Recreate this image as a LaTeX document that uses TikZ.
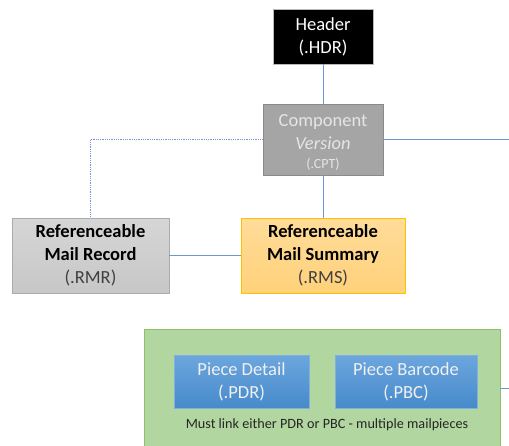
\documentclass[tikz,border=0pt]{standalone}
\usepackage{fontspec}
\setmainfont{Carlito}
\usepackage{xcolor}
\usepackage{tikz}
\usetikzlibrary{positioning, calc}

\definecolor{linkblue}{HTML}{7396D2}
\definecolor{cptfill}{HTML}{A5A5A5}
\definecolor{cptdraw}{HTML}{8A8A8A}
\definecolor{rmrtop}{HTML}{D6D6D6}
\definecolor{rmrbot}{HTML}{C7C7C7}
\definecolor{rmrdraw}{HTML}{ABABAB}
\definecolor{rmstop}{HTML}{FFDC99}
\definecolor{rmsbot}{HTML}{FFD17A}
\definecolor{rmsdraw}{HTML}{FFC000}
\definecolor{grpfill}{HTML}{B2D6A0}
\definecolor{grpdraw}{HTML}{8CC168}
\definecolor{piecetop}{HTML}{6CA6DE}
\definecolor{piecebot}{HTML}{478ACB}
\definecolor{piecedraw}{HTML}{7FB0DE}

\tikzset{
    rec/.style={rectangle, draw, line width=0.8pt, align=center, inner sep=0pt,
        font=\fontsize{18.5}{23}\selectfont},
    piece/.style={rec, top color=piecetop, bottom color=piecebot, draw=piecedraw,
        text=white!94!black, minimum height=53pt},
    link/.style={draw=linkblue, line width=0.8pt},
    small/.style={font=\fontsize{14.2}{16}\selectfont}
}

\begin{document}
\begin{tikzpicture}[x=1pt, y=-1pt]
    \clip (0,0) rectangle (509,445);

    % top of the tree
    \node[rec, fill=black, draw=cptdraw!60, text=white, minimum width=100pt, minimum height=55pt] (hdr) at (323,36.5) {Header\\(.HDR)};
    \node[rec, fill=cptfill, draw=cptdraw, text=white!90!black, minimum width=120pt, minimum height=71pt] (cpt) at (323,139.5)
        {\rule{0pt}{18pt}Component\\[0pt]\textit{Version}\\[-4pt]{\fontsize{14}{16}\selectfont(.CPT)}};

    % referenceable mail
    \node[rec, top color=rmrtop, bottom color=rmrbot, draw=rmrdraw, minimum width=157pt, minimum height=75pt] (rmr) at (90.5,255.5)
        {\textbf{Referenceable}\\\textbf{Mail Record}\\\textcolor{black!75}{(.RMR)}};
    \node[rec, top color=rmstop, bottom color=rmsbot, draw=rmsdraw, minimum width=164pt, minimum height=75pt] (rms) at (323,255.5)
        {\textbf{Referenceable}\\\textbf{Mail Summary}\\\textcolor{black!75}{(.RMS)}};

    % mailpiece group
    \node[rec, fill=grpfill, draw=grpdraw, minimum width=356pt, minimum height=118pt] (grp) at (322,388) {};
    \node[piece, minimum width=135pt] (pdr) at (241.5,381.5) {Piece Detail\\(.PDR)};
    \node[piece, minimum width=142pt] (pbc) at (406,381.5) {Piece Barcode\\(.PBC)};
    \node[small, text=black!85] (note) at (327,425) {Must link either PDR or PBC - multiple mailpieces};

    % loose ends on the right
    \coordinate (cptout) at (509,139.5);
    \coordinate (grpout) at (509,388);

    % links
    \draw[link] (hdr) -- (cpt);
    \draw[link] (cpt) -- (rms);
    \draw[link] (rmr) -- (rms);
    \draw[link] (cpt.east) -- (cptout);
    \draw[link] (grp.east) -- (grpout);
    \draw[link, densely dotted] (cpt.west) -| (rmr.north);
\end{tikzpicture}
\end{document}
